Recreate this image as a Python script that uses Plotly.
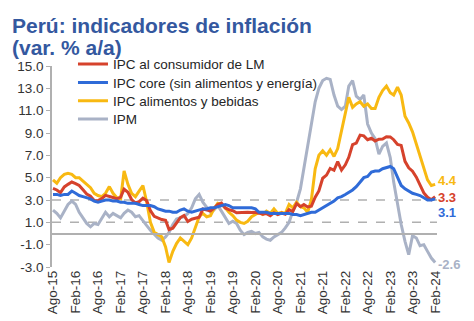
import pandas as pd
import plotly.graph_objects as go

# ---------------- data ----------------
months = pd.date_range("2015-08-01", "2024-02-01", freq="MS")

tick_labels = ["Ago-15", "Feb-16", "Ago-16", "Feb-17", "Ago-17", "Feb-18", "Ago-18",
               "Feb-19", "Ago-19", "Feb-20", "Ago-20", "Feb-21", "Ago-21", "Feb-22",
               "Ago-22", "Feb-23", "Ago-23", "Feb-24"]

y_ticks = [15.0, 13.0, 11.0, 9.0, 7.0, 5.0, 3.0, 1.0, -1.0, -3.0]
y_tick_labels = ["15.0", "13.0", "11.0", "9.0", "7.0", "5.0", "3.0", "1.0", "-1.0", "-3.0"]

target_band = [1.0, 3.0]

ipc_lm = [4.04, 3.90, 3.66, 4.17, 4.40,
          4.61, 4.47, 4.30, 3.91, 3.54, 3.34, 2.96, 2.94, 3.13, 3.41, 3.35, 3.23,
          3.10, 3.25, 3.97, 3.69, 3.04, 2.73, 2.85, 3.17, 2.94, 2.04, 1.54, 1.36,
          1.25, 1.18, 0.36, 0.48, 0.93, 1.43, 1.62, 1.07, 1.28, 1.35, 1.45, 2.19,
          2.13, 2.02, 2.25, 2.59, 2.73, 2.29, 2.14, 2.04, 1.85, 1.88, 1.87, 1.90,
          1.88, 1.90, 1.82, 1.72, 1.78, 1.60, 1.86, 1.69, 1.82, 1.72, 2.14, 1.97,
          2.68, 2.40, 2.60, 2.38, 2.45, 3.25, 3.81, 4.95, 5.23, 5.83, 5.66, 6.43,
          5.68, 6.15, 6.82, 7.96, 8.09, 8.81, 8.74, 8.40, 8.53, 8.28, 8.45, 8.46,
          8.66, 8.65, 8.40, 7.97, 7.89, 6.46, 5.88, 5.58, 5.04, 4.34, 3.64, 3.24,
          3.02, 3.29]

ipc_core = [3.5, 3.5, 3.4, 3.5, 3.5,
            3.8, 3.6, 3.4, 3.3, 3.2, 3.1, 2.9, 2.8, 2.9, 3.0, 3.0, 2.9,
            2.9, 2.8, 2.8, 2.7, 2.7, 2.7, 2.6, 2.5, 2.5, 2.5, 2.4, 2.2,
            2.1, 2.0, 2.0, 1.9, 1.9, 2.1, 2.2, 2.0, 1.9, 2.0, 2.1, 2.2,
            2.2, 2.3, 2.3, 2.4, 2.5, 2.6, 2.5, 2.3, 2.3, 2.3, 2.3, 2.3,
            2.3, 2.2, 1.9, 1.9, 1.9, 1.8, 1.8, 1.8, 1.8, 1.8, 1.8, 1.7,
            1.7, 1.6, 1.7, 1.8, 1.9, 1.9, 2.1, 2.3, 2.5, 2.7, 2.9, 3.2,
            3.3, 3.5, 3.7, 3.9, 4.2, 4.6, 5.0, 5.1, 5.5, 5.6, 5.6, 5.8,
            5.9, 6.0, 5.8, 5.0, 4.3, 4.0, 3.8, 3.6, 3.5, 3.4, 3.2, 3.0,
            3.0, 3.1]

ipc_alimentos = [4.8, 4.5, 5.0, 5.3, 5.4,
                 5.3, 5.0, 5.0, 4.7, 4.4, 4.1, 3.6, 3.4, 3.3, 3.6, 4.2, 3.6,
                 3.2, 3.1, 5.6, 4.4, 3.6, 3.3, 3.8, 4.3, 2.8, 1.0, 0.1, -0.1,
                 -0.3, -1.2, -2.6, -1.6, -0.9, -0.4, -0.7, -1.0, -0.4, 0.6, 1.5, 1.8,
                 1.5, 1.6, 2.2, 2.7, 2.6, 2.3, 1.9, 1.6, 1.2, 1.0, 0.9, 1.1,
                 1.5, 1.7, 1.9, 1.7, 2.0, 1.8, 2.2, 1.8, 1.9, 1.8, 2.6, 2.3,
                 2.8, 2.4, 2.3, 1.9, 3.0, 5.8, 7.0, 7.4, 7.0, 7.5, 6.9, 7.6,
                 9.3, 10.7, 12.2, 11.3, 11.6, 11.8, 11.4, 11.6, 11.2, 11.2, 12.2, 12.8,
                 13.2, 12.6, 12.4, 13.1, 12.4, 10.5, 9.9, 9.1, 8.0, 6.9, 5.8, 4.8,
                 4.3, 4.4]

ipm = [2.1, 1.8, 1.4, 2.0, 2.6,
       2.9, 2.6, 1.9, 1.4, 0.9, 0.6, 0.9, 0.8, 1.3, 1.9, 1.5, 1.8,
       1.6, 1.4, 1.8, 2.1, 1.9, 1.5, 1.6, 1.1, 0.7, 0.3, -0.1, -0.4,
       -0.6, -0.3, 0.1, 0.8, 1.3, 1.4, 1.5, 1.8, 2.3, 3.1, 3.5, 2.8,
       2.3, 1.9, 2.1, 2.5, 2.0, 1.4, 0.9, 1.1, 0.9, 0.3, -0.1, 0.1,
       0.2, 0.0, 0.1, -0.3, -0.5, -0.6, -0.3, -0.1, 0.1, 0.5, 1.0, 2.0,
       2.8, 4.0, 5.8, 8.0, 10.0, 11.8, 13.0, 13.7, 13.9, 13.8, 12.4, 11.4,
       11.1, 11.4, 13.2, 13.7, 12.3, 12.0, 12.4, 9.8, 9.0, 8.5, 7.1, 7.8,
       8.1, 6.8, 4.6, 2.6, 0.8, -0.7, -1.9, -0.2, -0.4, -1.1, -1.0, -1.6,
       -2.2, -2.6]

series_names = ["IPC al consumidor de LM", "IPC core (sin alimentos y energía)",
                "IPC alimentos y bebidas", "IPM"]

# ---------------- style ----------------
RED = "#D6422C"
BLUE = "#2F6BD8"
GOLD = "#F8B912"
GRAY = "#A9B2C6"
AXIS = "#B0B0B0"
TEXT = "#333333"
TITLE = "#34589F"
FONT = "Arial, Liberation Sans, sans-serif"

fig = go.Figure()

# (values, name, colour, legend id, legend y (paper), label yshift)
traces = [
    (ipm, series_names[3], GRAY, "legend4", 0.735, -2),
    (ipc_alimentos, series_names[2], GOLD, "legend3", 0.826, 4),
    (ipc_lm, series_names[0], RED, "legend", 1.0085, -1),
    (ipc_core, series_names[1], BLUE, "legend2", 0.917, -14),
]
for vals, name, col, leg, _, _ in traces:
    fig.add_trace(go.Scatter(x=months, y=vals, mode="lines", name=name,
                             line=dict(color=col, width=3), legend=leg,
                             hoverinfo="skip"))

# helper trace so the zero-line axis is drawn
fig.add_trace(go.Scatter(x=[], y=[], xaxis="x2", showlegend=False, hoverinfo="skip"))

# end-of-line value labels
for vals, name, col, leg, _, ysh in traces:
    fig.add_annotation(x=months[-1], y=vals[-1], xref="x", yref="y",
                       text="<b>%.1f</b>" % vals[-1], showarrow=False,
                       xanchor="left", yanchor="middle", xshift=2, yshift=ysh,
                       borderpad=0,
                       font=dict(family=FONT, size=13, color=col))

for v in target_band:
    fig.add_shape(type="line", xref="paper", x0=0, x1=1, yref="y", y0=v, y1=v,
                  line=dict(color=AXIS, width=1.5, dash="dash"), layer="below")

# title
fig.add_annotation(xref="paper", yref="paper", x=-0.11, y=1.27, xanchor="left", yanchor="top",
                   text="<b>Perú: indicadores de inflación</b>", showarrow=False,
                   font=dict(family=FONT, size=21, color=TITLE))
fig.add_annotation(xref="paper", yref="paper", x=-0.11, y=1.158, xanchor="left", yanchor="top",
                   text="<b>(var. % a/a)</b>", showarrow=False,
                   font=dict(family=FONT, size=21, color=TITLE))

x_range = [months[0] - pd.Timedelta(days=8), months[-1] + pd.Timedelta(days=15)]

legend_common = dict(x=0.0545, xanchor="left", yanchor="middle",
                     bgcolor="rgba(0,0,0,0)", font=dict(size=13.5, color="#262626"),
                     itemwidth=30)
layout_legends = {}
for vals, name, col, leg, ly, _ in traces:
    layout_legends[leg] = dict(legend_common, y=ly)

fig.update_layout(
    width=474, height=321,
    margin=dict(l=52, r=37, t=66, b=54),
    paper_bgcolor="white", plot_bgcolor="white",
    font=dict(family=FONT, size=13.5, color=TEXT),
    showlegend=True,
    **layout_legends,
    xaxis=dict(range=x_range, tickvals=list(months[::6]), ticktext=tick_labels,
               tickangle=-90, showline=False, ticks="", showgrid=False, zeroline=False,
               automargin=False, tickfont=dict(size=13.5, color=TEXT)),
    xaxis2=dict(overlaying="x", matches="x", anchor="free", position=1/6,
                showline=True, linecolor=AXIS, linewidth=1.5, ticks="outside",
                ticklen=4, tickcolor=AXIS, tickwidth=1.2, tickvals=list(months[::6]),
                showticklabels=False, showgrid=False, zeroline=False, range=x_range,
                automargin=False),
    yaxis=dict(range=[-3, 15], tickvals=y_ticks, ticktext=y_tick_labels,
               showline=True, linecolor=AXIS, linewidth=1.5, ticks="outside",
               ticklen=4, tickcolor=AXIS, showgrid=False, zeroline=False,
               automargin=False, tickfont=dict(size=13.5, color=TEXT)),
)

fig.write_html("out.html")
